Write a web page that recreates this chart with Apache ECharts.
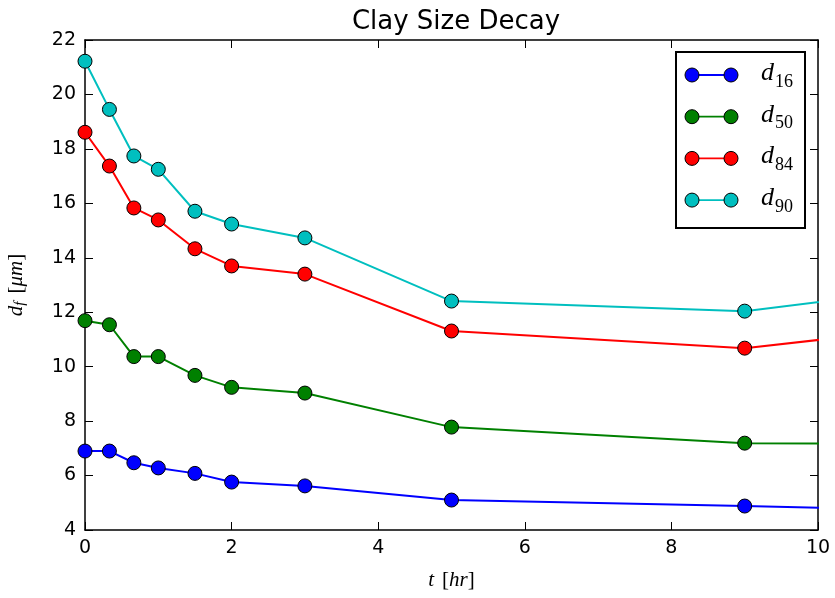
<!DOCTYPE html>
<html><head><meta charset="utf-8">
<script src="https://cdn.jsdelivr.net/npm/echarts@6/dist/echarts.min.js"></script>
<style>html,body{margin:0;padding:0;background:#fff}#c{width:835px;height:598px}</style>
</head><body><div id="c"></div>
<script>
// Data (x = hours). Last point lies beyond the visible axis (clipped).
const tHours = [0, 1/3, 2/3, 1, 1.5, 2, 3, 5, 9, 11];
const d16 = [6.90, 6.90, 6.47, 6.28, 6.08, 5.76, 5.62, 5.10, 4.88, 4.76];
const d50 = [11.69, 11.54, 10.37, 10.37, 9.68, 9.24, 9.03, 7.78, 7.19, 7.17];
const d84 = [18.61, 17.37, 15.83, 15.39, 14.33, 13.70, 13.40, 11.31, 10.68, 11.28];
const d90 = [21.22, 19.45, 17.74, 17.25, 15.71, 15.24, 14.73, 12.41, 12.04, 12.70];
const seriesNames = ['16', '50', '84', '90'];
const seriesColors = ['#0000ff', '#008000', '#ff0000', '#00bfbf'];
const xTicks = [0, 2, 4, 6, 8, 10];
const yTicks = [4, 6, 8, 10, 12, 14, 16, 18, 20, 22];

const allData = [d16, d50, d84, d90];
const pair = (ys) => tHours.map((x, i) => [x, ys[i]]);

const chart = echarts.init(document.getElementById('c'), null, {renderer: 'canvas'});
const mathFont = 'Liberation Serif';
const axisCommon = {
  axisLine: {show: true, onZero: false, lineStyle: {color: '#000', width: 1.5}},
  axisTick: {show: true, inside: true, length: 8, lineStyle: {color: '#000', width: 1}},
  splitLine: {show: false}
};
const legendGraphics = [];
const lx = 676, ly = 52;
legendGraphics.push({type: 'rect', shape: {x: lx, y: ly, width: 129, height: 176}, style: {fill: '#fff', stroke: '#000', lineWidth: 2}, z: 100});
seriesNames.forEach((n, i) => {
  const cy = ly + 23 + i * 41.7;
  legendGraphics.push({type: 'line', shape: {x1: 692, y1: cy, x2: 731, y2: cy}, style: {stroke: seriesColors[i], lineWidth: 1.8}, z: 101});
  [692, 731].forEach(cx => legendGraphics.push({type: 'circle', shape: {cx: cx, cy: cy, r: 7}, style: {fill: seriesColors[i], stroke: '#000', lineWidth: 1}, z: 102}));
  legendGraphics.push({type: 'text', x: 761, y: cy - 15, style: {
    text: '{d|d}{s|' + n + '}',
    rich: {d: {fontFamily: mathFont, fontStyle: 'italic', fontSize: 26, fill: '#000', verticalAlign: 'top'},
           s: {fontFamily: mathFont, fontSize: 18, fill: '#000', padding: [13, 0, 0, 1], verticalAlign: 'top'}}
  }, z: 103});
});

chart.setOption({
  animation: false,
  backgroundColor: '#fff',
  title: {text: 'Clay Size Decay', left: 451, textAlign: 'center', top: 4,
    textStyle: {fontFamily: 'DejaVu Sans', fontSize: 26, fontWeight: 'normal', color: '#000'}},
  grid: {left: 85, right: 17, top: 40, bottom: 68, containLabel: false, outerBoundsMode: 'none'},
  xAxis: [
    Object.assign({type: 'value', min: 0, max: 10, interval: 2, position: 'bottom',
      name: '{i|t}{sp| }{n|[}{i|hr}{n|]}', nameLocation: 'middle', nameGap: 40,
      nameTextStyle: {rich: {i: {fontFamily: mathFont, fontStyle: 'italic', fontSize: 21, color: '#000'}, sp: {fontSize: 21, width: 8}, n: {fontFamily: mathFont, fontSize: 21, color: '#000'}}},
      axisLabel: {fontFamily: 'DejaVu Sans', fontSize: 19, color: '#000', margin: 9, formatter: v => xTicks.includes(v) ? String(v) : ''}}, axisCommon),
    Object.assign({type: 'value', min: 0, max: 10, interval: 2, position: 'top', axisLabel: {show: false}}, axisCommon)
  ],
  yAxis: [
    Object.assign({type: 'value', min: 4, max: 22, interval: 2, position: 'left',
      name: '{i|d}{s|f}{sp| }{n|[}{i|μm}{n|]}', nameLocation: 'middle', nameGap: 57,
      nameTextStyle: {rich: {i: {fontFamily: mathFont, fontStyle: 'italic', fontSize: 21, color: '#000'}, s: {fontFamily: mathFont, fontStyle: 'italic', fontSize: 15, color: '#000', padding: [9, 0, 0, 0]}, sp: {fontSize: 21, width: 8}, n: {fontFamily: mathFont, fontSize: 21, color: '#000'}}},
      axisLabel: {fontFamily: 'DejaVu Sans', fontSize: 19, color: '#000', margin: 9, formatter: v => yTicks.includes(v) ? String(v) : ''}}, axisCommon),
    Object.assign({type: 'value', min: 4, max: 22, interval: 2, position: 'right', axisLabel: {show: false}}, axisCommon)
  ],
  series: allData.map((ys, i) => ({
    type: 'line', name: 'd' + seriesNames[i], xAxisIndex: 0, yAxisIndex: 0,
    data: pair(ys), clip: true,
    symbol: 'circle', symbolSize: 14, showAllSymbol: true,
    lineStyle: {color: seriesColors[i], width: 2},
    itemStyle: {color: seriesColors[i], borderColor: '#000', borderWidth: 1}
  })),
  graphic: legendGraphics
});
</script></body></html>
